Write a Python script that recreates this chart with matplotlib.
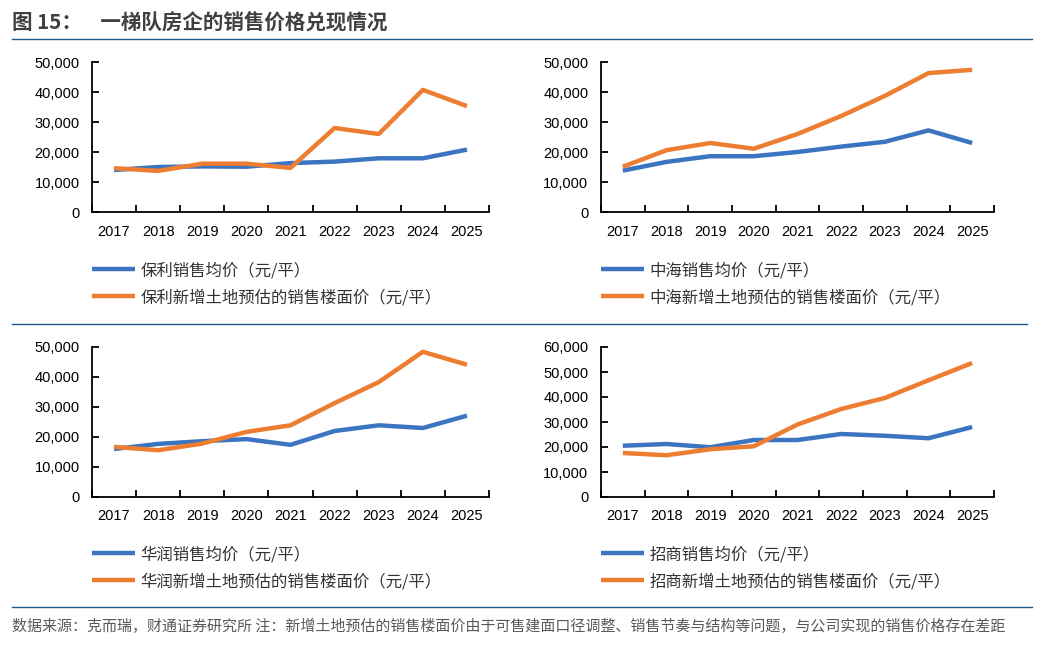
import matplotlib
matplotlib.use("Agg")
import matplotlib.pyplot as plt
from matplotlib.lines import Line2D
from matplotlib.ticker import FuncFormatter, FixedLocator, NullFormatter

years = ["2017", "2018", "2019", "2020", "2021", "2022", "2023", "2024", "2025"]

poly_avg = [14000, 15000, 15200, 15100, 16300, 16800, 17900, 17900, 20800]
poly_land = [14600, 13700, 16100, 16100, 14700, 28000, 26000, 40700, 35300]

coli_avg = [13800, 16700, 18600, 18600, 20000, 21800, 23400, 27200, 23000]
coli_land = [15100, 20600, 23000, 21100, 26000, 32000, 38700, 46300, 47400]

crland_avg = [16000, 17700, 18600, 19300, 17400, 22000, 23900, 23000, 27100]
crland_land = [16700, 15600, 17800, 21700, 23900, 31300, 38300, 48400, 44100]

cmsk_avg = [20500, 21200, 19900, 22800, 22800, 25200, 24500, 23500, 28000]
cmsk_land = [17600, 16700, 19100, 20300, 29000, 35200, 39600, 46700, 53600]

panels = [
    ("保利", poly_avg, poly_land, 50000),
    ("中海", coli_avg, coli_land, 50000),
    ("华润", crland_avg, crland_land, 50000),
    ("招商", cmsk_avg, cmsk_land, 60000),
]

W, H = 1048, 645
BLUE = "#3B75C2"
ORANGE = "#ED7D31"
CJK = ["Noto Sans CJK SC", "DejaVu Sans"]
NUM = ["Liberation Sans", "DejaVu Sans"]

fig = plt.figure(figsize=(W / 100, H / 100), dpi=100)

# axes rectangles in pixels: left, right, top, bottom
rects = [
    (92, 489, 62, 212),
    (601, 994, 62, 212),
    (92, 489, 347, 497),
    (601, 994, 347, 497),
]
legend_tops = [262, 262, 546, 546]

for (name, avg, land, ymax), (l, r, t, b), lt in zip(panels, rects, legend_tops):
    ax = fig.add_axes([l / W, 1 - b / H, (r - l) / W, (b - t) / H])
    xs = [i + 0.5 for i in range(len(years))]
    ax.plot(xs, avg, color=BLUE, lw=3.2, solid_capstyle="butt",
            label=f"{name}销售均价（元/平）")
    ax.plot(xs, land, color=ORANGE, lw=3.2, solid_capstyle="butt",
            label=f"{name}新增土地预估的销售楼面价（元/平）")
    ax.set_xlim(0, len(years))
    ax.set_ylim(0, ymax)
    ax.set_yticks(range(0, ymax + 1, 10000))
    ax.yaxis.set_major_formatter(FuncFormatter(lambda v, p: f"{int(v):,}"))
    ax.xaxis.set_major_locator(FixedLocator(range(len(years) + 1)))
    ax.xaxis.set_major_formatter(NullFormatter())
    ax.xaxis.set_minor_locator(FixedLocator(xs))
    ax.set_xticklabels(years, minor=True)
    ax.tick_params(axis="x", which="major", direction="in", length=5, width=1.3)
    ax.tick_params(axis="x", which="minor", length=0, pad=9, labelsize=10.5)
    ax.tick_params(axis="y", direction="in", length=5, width=1.3, pad=9, labelsize=10.5)
    for lab in ax.get_xticklabels(minor=True) + ax.get_yticklabels():
        lab.set_family(NUM)
    for s in ("top", "right"):
        ax.spines[s].set_visible(False)
    for s in ("left", "bottom"):
        ax.spines[s].set_linewidth(1.3)
    ax.patch.set_alpha(0)
    leg = ax.legend(loc="upper left", bbox_to_anchor=(l / W, 1 - lt / H),
                    bbox_transform=fig.transFigure, frameon=False,
                    prop={"family": CJK, "size": 11.8}, handlelength=2.6,
                    handletextpad=0.35, labelspacing=0.62, borderpad=0,
                    borderaxespad=0)
    for txt in leg.get_texts():
        txt.set_color("#333333")

# Title
fig.text(12 / W, 1 - 22 / H, "图 15：    一梯队房企的销售价格兑现情况", family=CJK,
         fontsize=14.8, fontweight="bold", color="#404040", va="center", ha="left")

# Horizontal rules
for y, x1 in [(39, 1032), (324, 1027), (607, 1032)]:
    fig.add_artist(Line2D([12 / W, x1 / W], [1 - y / H, 1 - y / H],
                          color="#1F5A8A", lw=1.0, transform=fig.transFigure))

# Footer
fig.text(12 / W, 1 - 626 / H,
         "数据来源：克而瑞，财通证券研究所 注：新增土地预估的销售楼面价由于可售建面口径调整、销售节奏与结构等问题，与公司实现的销售价格存在差距",
         family=CJK, fontsize=10.8, color="#595959", va="center", ha="left")

fig.savefig("out.png", dpi=100, facecolor="white")
